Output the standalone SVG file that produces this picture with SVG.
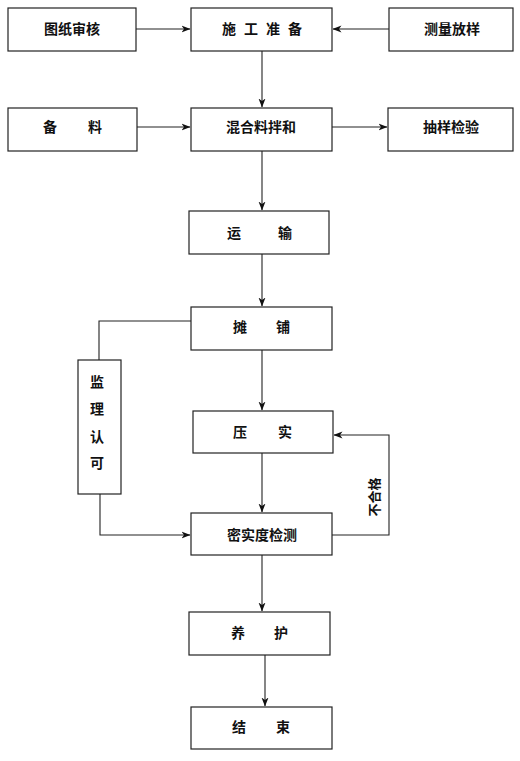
<svg xmlns="http://www.w3.org/2000/svg" width="520" height="761" viewBox="0 0 520 761">
<defs>
<marker id="ah" markerWidth="9" markerHeight="8" refX="8.5" refY="4" orient="auto" markerUnits="userSpaceOnUse">
<path d="M0,0.5 L9,4 L0,7.5 L2.5,4 Z" fill="#111"/>
</marker>
<style>
.b{fill:#fff;stroke:#222;stroke-width:1.2}
.t{font-family:"Liberation Sans","Noto Sans CJK SC",sans-serif;font-size:14px;fill:#111;font-weight:bold}
.c{text-anchor:middle}
.l{fill:none;stroke:#222;stroke-width:1.1}
</style>
</defs>
<rect width="520" height="761" fill="#fff"/>
<g id="connectors">
<path class="l" d="M136,29 H190" marker-end="url(#ah)"/>
<path class="l" d="M389,29 H333" marker-end="url(#ah)"/>
<path class="l" d="M262,51 V107" marker-end="url(#ah)"/>
<path class="l" d="M137,127 H190" marker-end="url(#ah)"/>
<path class="l" d="M332,127 H387" marker-end="url(#ah)"/>
<path class="l" d="M262,151 V210" marker-end="url(#ah)"/>
<path class="l" d="M262,254 V306" marker-end="url(#ah)"/>
<path class="l" d="M191,321 H99 V360"/>
<path class="l" d="M262,350 V410" marker-end="url(#ah)"/>
<path class="l" d="M262,453 V512" marker-end="url(#ah)"/>
<path class="l" d="M100,494 V535 H190" marker-end="url(#ah)"/>
<path class="l" d="M332,535 H389 V435 H334" marker-end="url(#ah)"/>
<path class="l" d="M262,555 V611" marker-end="url(#ah)"/>
<path class="l" d="M265,655 V706" marker-end="url(#ah)"/>
<text class="t" transform="translate(379,497) rotate(-90)" text-anchor="middle" style="font-size:13px">不合格</text>
</g>
<g id="n1"><rect class="b" x="8" y="8" width="128" height="43"/><text class="t c" x="72" y="34">图纸审核</text></g>
<g id="n2"><rect class="b" x="191" y="8" width="141" height="43"/><text class="t" x="222 244 266 288" y="34">施工准备</text></g>
<g id="n3"><rect class="b" x="389" y="8" width="124" height="43"/><text class="t c" x="452" y="34">测量放样</text></g>
<g id="n4"><rect class="b" x="8" y="108" width="129" height="43"/><text class="t" x="43 88" y="132">备料</text></g>
<g id="n5"><rect class="b" x="191" y="108" width="141" height="43"/><text class="t c" x="261" y="132">混合料拌和</text></g>
<g id="n6"><rect class="b" x="388" y="108" width="125" height="43"/><text class="t c" x="451" y="132">抽样检验</text></g>
<g id="n7"><rect class="b" x="189" y="211" width="140" height="43"/><text class="t" x="227 278" y="238">运输</text></g>
<g id="n8"><rect class="b" x="191" y="307" width="141" height="43"/><text class="t" x="233 276" y="332">摊铺</text></g>
<g id="n9"><rect class="b" x="78" y="360" width="43" height="134"/><text class="t c" x="97" y="387">监</text><text class="t c" x="97" y="414">理</text><text class="t c" x="97" y="442">认</text><text class="t c" x="97" y="468">可</text></g>
<g id="n10"><rect class="b" x="193" y="411" width="140" height="42"/><text class="t" x="233 278" y="437">压实</text></g>
<g id="n11"><rect class="b" x="191" y="513" width="141" height="42"/><text class="t c" x="262" y="540">密实度检测</text></g>
<g id="n12"><rect class="b" x="189" y="612" width="141" height="43"/><text class="t" x="231 274" y="638">养护</text></g>
<g id="n13"><rect class="b" x="191" y="707" width="141" height="42"/><text class="t" x="232 276" y="732">结束</text></g>
</svg>
